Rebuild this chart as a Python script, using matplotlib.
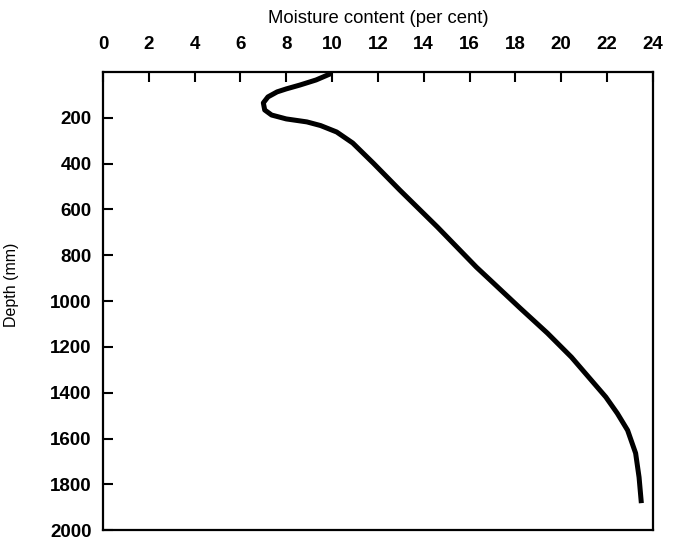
import matplotlib.pyplot as plt

# moisture content (per cent) vs depth (mm)
moisture = [10.0, 9.3, 8.6, 8.0, 7.6, 7.2, 7.0, 7.06, 7.36, 8.0, 8.9, 9.5,
            10.2, 10.9, 11.8, 12.95, 14.6, 16.3, 16.9, 18.2, 19.4, 20.45,
            21.2, 21.95, 22.45, 22.9, 23.25, 23.4, 23.5]
depth = [5, 35, 57, 74, 87, 109, 135, 166, 188, 205, 218, 234,
         262, 310, 398, 515, 677, 852, 908, 1030, 1140, 1245,
         1332, 1419, 1490, 1564, 1664, 1769, 1882]

x_ticks = list(range(0, 25, 2))
y_ticks = list(range(200, 2001, 200))

plt.rcParams['font.family'] = ['Liberation Sans', 'DejaVu Sans']

fig = plt.figure(figsize=(6.73, 5.41), dpi=100)
ax = fig.add_axes([0.153, 0.020, 0.817, 0.847])

ax.plot(moisture, depth, color='black', linewidth=3.6,
        solid_capstyle='butt', solid_joinstyle='round')

ax.set_xlim(0, 24)
ax.set_ylim(2000, 0)
ax.set_xticks(x_ticks)
ax.set_yticks(y_ticks)
ax.xaxis.tick_top()
ax.xaxis.set_label_position('top')

ax.tick_params(axis='x', direction='in', length=7, width=1.5, pad=14,
               labelsize=13.5)
ax.tick_params(axis='y', direction='in', length=7, width=1.5, pad=8,
               labelsize=13.5)
for lbl in ax.get_xticklabels() + ax.get_yticklabels():
    lbl.set_fontweight('bold')

for side in ax.spines.values():
    side.set_linewidth(1.6)

ax.set_xlabel('Moisture content (per cent)', fontsize=13.3, labelpad=9)
ax.set_ylabel('Depth (mm)', fontsize=11.5)
ax.yaxis.set_label_coords(-0.152, 0.535)

fig.savefig('out.png', dpi=100)
